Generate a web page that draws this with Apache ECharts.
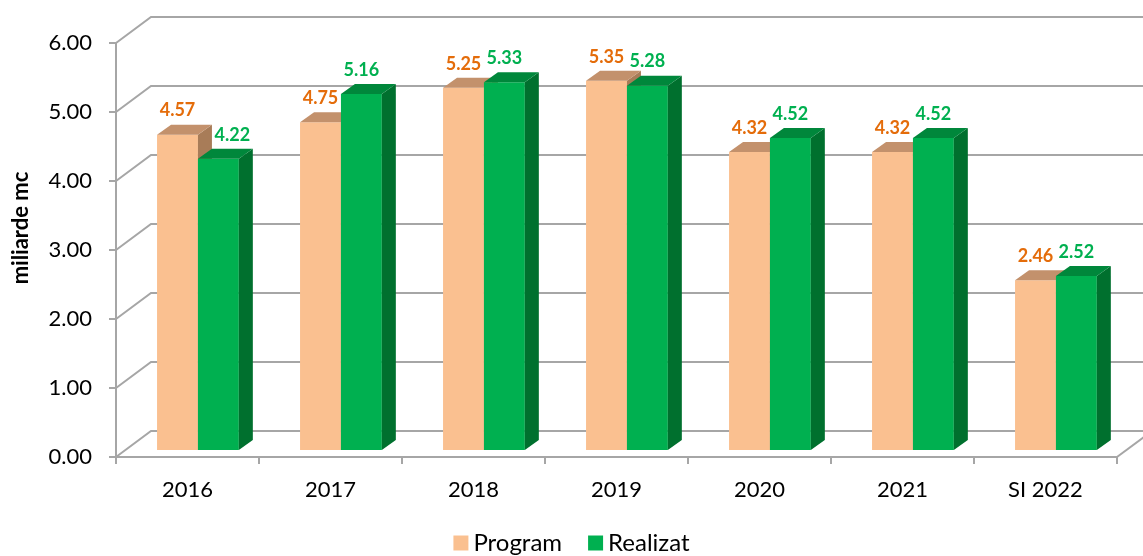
<!DOCTYPE html>
<html>
<head>
    <meta charset="UTF-8">
    <title>miliarde mc</title>
    <script type="text/javascript" src="https://cdn.jsdelivr.net/npm/echarts@6/dist/echarts.min.js"></script>
    <style type="text/css">
        html, body { margin: 0; padding: 0; background: #fff; }
        #chart { width: 1143px; height: 556px; }
    </style>
</head>
<body>
<div id="chart"></div>
<script type="text/javascript">
    // date
    var categories = ['2016', '2017', '2018', '2019', '2020', '2021', 'SI 2022'];
    var programValues = [4.57, 4.75, 5.25, 5.35, 4.32, 4.32, 2.46];
    var realizatValues = [4.22, 5.16, 5.33, 5.28, 4.52, 4.52, 2.52];
    var yTicks = [0, 1, 2, 3, 4, 5, 6];

    // eticheta 4.22 e mutata putin la dreapta in original
    var realizatNudge = {0: 14};

    var DEPTH_X = 35, DEPTH_Y = -26;   // peretii din spate
    var BAR_DX = 14, BAR_DY = -10;     // adancimea coloanelor
    var gridColor = '#A6A6A6';
    var font = 'Lato, "Open Sans", sans-serif';

    function toPairs(arr) {
        return arr.map(function (v, i) { return [i, v]; });
    }

    // coloana 3D: fata, lateral, capac + eticheta
    function barRenderer(shift, faces, labelColor, nudge) {
        return function (params, api) {
            var i = api.value(0), v = api.value(1);
            var top = api.coord([i, v]);
            var base = api.coord([i, 0]);
            var band = api.size([1, 0])[0];
            var w = band * 0.286;
            var x0 = base[0] + band * shift;
            var x1 = x0 + w;
            var yb = base[1] - 7, yt = top[1] - 7;
            return {
                type: 'group',
                children: [
                    {type: 'rect', shape: {x: x0, y: yt, width: w, height: yb - yt},
                        style: {fill: faces[0]}},
                    {type: 'polygon', shape: {points: [[x1, yb], [x1 + BAR_DX, yb + BAR_DY], [x1 + BAR_DX, yt + BAR_DY], [x1, yt]]},
                        style: {fill: faces[1]}},
                    {type: 'polygon', shape: {points: [[x0, yt], [x0 + BAR_DX, yt + BAR_DY], [x1 + BAR_DX, yt + BAR_DY], [x1, yt]]},
                        style: {fill: faces[2]}},
                    {type: 'text', style: {
                        text: v.toFixed(2), x: (x0 + x1) / 2 + ((nudge && nudge[i]) || 0), y: yt - 24,
                        align: 'center', verticalAlign: 'middle',
                        fill: labelColor, fontSize: 18, fontWeight: 'bold', fontFamily: font
                    }}
                ]
            };
        };
    }

    // liniile de grila pe peretele din spate si pe peretele stang
    function wallRenderer(params, api) {
        var v = api.value(1);
        var p = api.coord([0, v]);
        var cs = params.coordSys;
        var L = cs.x, R = cs.x + cs.width, y = p[1];
        var children = [
            {type: 'polyline', shape: {points: [[L, y], [L + DEPTH_X, y + DEPTH_Y], [R + DEPTH_X + 40, y + DEPTH_Y]]},
                style: {stroke: gridColor, lineWidth: 2, fill: null}}
        ];
        if (v === 0) {
            children.push({type: 'line', shape: {x1: R, y1: y, x2: R + DEPTH_X, y2: y + DEPTH_Y},
                style: {stroke: gridColor, lineWidth: 2}});
        }
        return {type: 'group', children: children};
    }

    var chart = echarts.init(document.getElementById('chart'));
    chart.setOption({
        animation: false,
        color: ['#FAC090', '#00B050'],
        grid: {left: 116, top: 43, width: 1001, bottom: 99},
        legend: {
            data: ['Program', 'Realizat'],
            bottom: -4,
            left: 'center',
            icon: 'rect',
            itemWidth: 15,
            itemHeight: 15,
            itemGap: 26,
            textStyle: {fontSize: 24, color: '#000', fontFamily: font}
        },
        xAxis: {
            type: 'category',
            data: categories,
            axisLine: {lineStyle: {color: gridColor, width: 2}},
            axisTick: {show: true, length: 7, lineStyle: {color: gridColor, width: 2}},
            axisLabel: {fontSize: 22, color: '#000', margin: 22, fontFamily: font}
        },
        yAxis: {
            type: 'value',
            min: 0,
            max: 6,
            interval: 1,
            name: 'miliarde mc',
            nameLocation: 'middle',
            nameRotate: 90,
            nameGap: 84,
            nameTextStyle: {fontSize: 22, fontWeight: 'bold', color: '#000', fontFamily: font, padding: [0, 0, 0, 44]},
            axisLine: {show: true, lineStyle: {color: gridColor, width: 2}},
            axisTick: {show: true, length: 7, lineStyle: {color: gridColor, width: 2}},
            splitLine: {show: false},
            axisLabel: {
                fontSize: 22, color: '#000', margin: 24, fontFamily: font,
                formatter: function (v) { return v.toFixed(2); }
            }
        },
        series: [
            {
                name: 'walls',
                type: 'custom',
                z: 1,
                silent: true,
                renderItem: wallRenderer,
                data: yTicks.map(function (v) { return [0, v]; })
            },
            {
                name: 'Program',
                type: 'custom',
                z: 3,
                itemStyle: {color: '#FAC090'},
                renderItem: barRenderer(-0.213, ['#FAC090', '#A87C58', '#C3916C'], '#E46C0A'),
                data: toPairs(programValues)
            },
            {
                name: 'Realizat',
                type: 'custom',
                z: 4,
                itemStyle: {color: '#00B050'},
                renderItem: barRenderer(0.073, ['#00B050', '#00702E', '#00873B'], '#00B050', realizatNudge),
                data: toPairs(realizatValues)
            }
        ]
    });
</script>
</body>
</html>
